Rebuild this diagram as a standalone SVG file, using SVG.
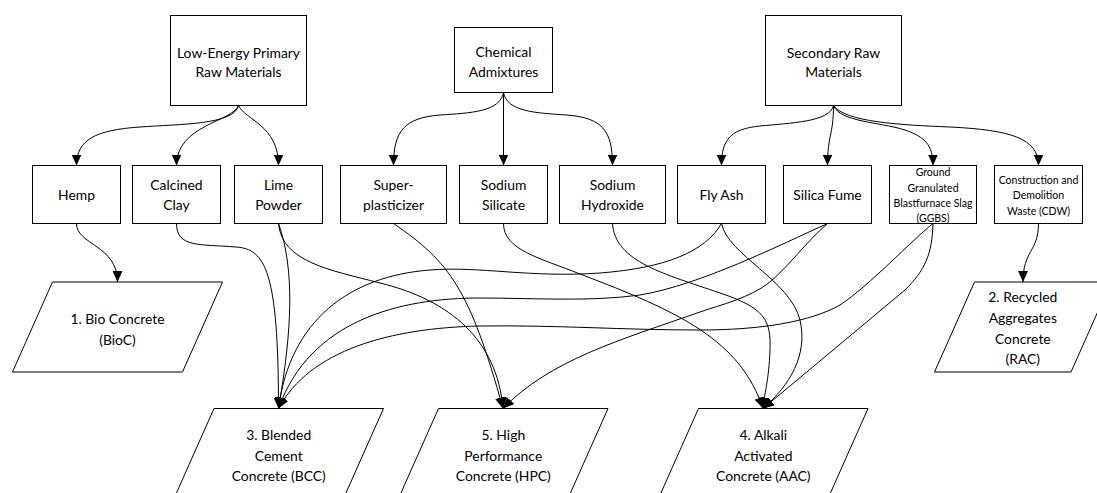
<svg xmlns="http://www.w3.org/2000/svg" width="1097" height="493" viewBox="0 0 1097 493">
<style>
.box{fill:#fff;stroke:#000;stroke-width:1}
.t{font-family:Lato,"Liberation Sans",sans-serif;font-size:13.9px;fill:#000;text-anchor:middle}
.s{font-size:10.5px}
.c{fill:none;stroke:#000;stroke-width:1;marker-end:url(#ah)}
</style>
<defs>
<marker id="ah" markerUnits="userSpaceOnUse" markerWidth="11" markerHeight="10" refX="11" refY="5" orient="auto"><path d="M0,0 L11,5 L0,10 z" fill="#000"/></marker>
</defs>
<rect width="1097" height="493" fill="#fff"/>
<g id="n-lowe"><rect class="box" x="170.5" y="15.5" width="136" height="90"/><text class="t" x="238.5" y="57.5">Low-Energy Primary</text><text class="t" x="238.5" y="76.5">Raw Materials</text></g>
<g id="n-chem"><rect class="box" x="454.5" y="27.5" width="98" height="65"/><text class="t" x="503.5" y="57">Chemical</text><text class="t" x="503.5" y="76.5">Admixtures</text></g>
<g id="n-sec"><rect class="box" x="765.5" y="15.5" width="136" height="90"/><text class="t" x="833.5" y="57.5">Secondary Raw</text><text class="t" x="833.5" y="76.5">Materials</text></g>
<g id="n-hemp"><rect class="box" x="32.5" y="165.5" width="88" height="58"/><text class="t" x="76.5" y="200.3">Hemp</text></g>
<g id="n-clay"><rect class="box" x="132.5" y="165.5" width="88" height="58"/><text class="t" x="176.5" y="189.8">Calcined</text><text class="t" x="176.5" y="210.3">Clay</text></g>
<g id="n-lime"><rect class="box" x="234.5" y="165.5" width="88" height="58"/><text class="t" x="278.5" y="189.8">Lime</text><text class="t" x="278.5" y="210.3">Powder</text></g>
<g id="n-super"><rect class="box" x="340.5" y="165.5" width="106" height="58"/><text class="t" x="393.5" y="189.8">Super-</text><text class="t" x="393.5" y="210.3">plasticizer</text></g>
<g id="n-silicate"><rect class="box" x="459.5" y="165.5" width="88" height="58"/><text class="t" x="503.5" y="189.8">Sodium</text><text class="t" x="503.5" y="210.3">Silicate</text></g>
<g id="n-hydroxide"><rect class="box" x="559.5" y="165.5" width="106" height="58"/><text class="t" x="612.5" y="189.8">Sodium</text><text class="t" x="612.5" y="210.3">Hydroxide</text></g>
<g id="n-flyash"><rect class="box" x="677.5" y="165.5" width="88" height="58"/><text class="t" x="721.5" y="200.3">Fly Ash</text></g>
<g id="n-silicafume"><rect class="box" x="783.5" y="165.5" width="88" height="58"/><text class="t" x="827.5" y="200.3">Silica Fume</text></g>
<g id="n-ggbs"><rect class="box" x="889.5" y="165.5" width="87" height="58"/><text class="t s" x="933" y="176.3">Ground</text><text class="t s" x="933" y="191.8">Granulated</text><text class="t s" x="933" y="207.3">Blastfurnace Slag</text><text class="t s" x="933" y="222.3">(GGBS)</text></g>
<g id="n-cdw"><rect class="box" x="994.5" y="165.5" width="88" height="58"/><text class="t s" x="1038.5" y="183.8">Construction and</text><text class="t s" x="1038.5" y="199.3">Demolition</text><text class="t s" x="1038.5" y="214.8">Waste (CDW)</text></g>
<g id="n-bioc"><polygon class="box" points="52.5,282 222.5,282 182.5,372 12.5,372"/><text class="t" x="117.5" y="323.8">1. Bio Concrete</text><text class="t" x="117.5" y="344.8">(BioC)</text></g>
<g id="n-rac"><polygon class="box" points="974.5,282 1111,282 1071,372 934.5,372"/><text class="t" x="1022.8" y="301.5">2. Recycled</text><text class="t" x="1022.8" y="322.5">Aggregates</text><text class="t" x="1022.8" y="343.5">Concrete</text><text class="t" x="1022.8" y="364">(RAC)</text></g>
<g id="n-bcc"><polygon class="box" points="214,408.5 383.5,408.5 343.5,498.5 174,498.5"/><text class="t" x="278.7" y="439.8">3. Blended</text><text class="t" x="278.7" y="460.5">Cement</text><text class="t" x="278.7" y="481">Concrete (BCC)</text></g>
<g id="n-hpc"><polygon class="box" points="438.5,408.5 608,408.5 568,498.5 398.5,498.5"/><text class="t" x="503.3" y="439.8">5. High</text><text class="t" x="503.3" y="460.5">Performance</text><text class="t" x="503.3" y="481">Concrete (HPC)</text></g>
<g id="n-aac"><polygon class="box" points="698.5,408.5 868,408.5 828,498.5 658.5,498.5"/><text class="t" x="763.3" y="439.8">4. Alkali</text><text class="t" x="763.3" y="460.5">Activated</text><text class="t" x="763.3" y="481">Concrete (AAC)</text></g>
<g id="connectors">
<path class="c" d="M238.5,105.5 C234,125 180,124 140,127 C95,130 76.5,140 76.5,165.5"/>
<path class="c" d="M238.5,105.5 C232,122 176.5,125 176.5,165.5"/>
<path class="c" d="M238.5,105.5 C245,120 278.5,125 278.5,165.5"/>
<path class="c" d="M503.5,92.5 C500,112 470,113 440,115 C405,118 393.5,130 393.5,165.5"/>
<path class="c" d="M503.5,92.5 L503.5,165.5"/>
<path class="c" d="M503.5,92.5 C507,112 537,113 567,115 C602,118 612.5,130 612.5,165.5"/>
<path class="c" d="M833.5,105.5 C830,122 790,123 760,126 C730,129 721.5,140 721.5,165.5"/>
<path class="c" d="M833.5,105.5 C833.5,135 827.5,135 827.5,165.5"/>
<path class="c" d="M833.5,105.5 C840,122 880,122 905,130 C925,137 933,145 933,165.5"/>
<path class="c" d="M833.5,105.5 C845,122 900,125 950,127 C1010,130 1038.5,138 1038.5,165.5"/>
<path class="c" d="M76.5,223.5 C76.5,245 117.5,245 117.5,282"/>
<path class="c" d="M1038.5,223.5 C1038.5,252 1023,250 1023,282"/>
<path class="c" d="M176.5,223.5 C176.5,248 200,244 236,247 C265,249 278.5,270 278.5,408.5"/>
<path class="c" d="M278.5,223.5 C295,270 292,330 278.5,408.5"/>
<path class="c" d="M278.5,223.5 C282,262 330,270 380,283 C450,300 497,340 503,408.5"/>
<path class="c" d="M393.5,223.5 C450,262 470,290 503,408.5"/>
<path class="c" d="M503.5,223.5 C503.5,250 540,258 580,274 C680,312 740,340 763,408.5"/>
<path class="c" d="M612.5,223.5 C615,262 665,274 720,293 C765,308 771,320 770,350 C769,380 764,395 763,408.5"/>
<path class="c" d="M721.5,223.5 C705,252 665,268 600,273 C530,278 480,266 430,270 C350,276 290,320 278.5,408.5"/>
<path class="c" d="M827.5,223.5 C780,245 700,285 640,295 C590,302 530,298 480,298 C400,298 310,320 278.5,408.5"/>
<path class="c" d="M827.5,223.5 C805,243 790,265 770,282 C750,298 720,305 700,312 C620,340 550,360 503,408.5"/>
<path class="c" d="M933,223.5 C910,242 870,285 840,305 C810,322 760,330 700,330 C620,330 560,325 480,326 C390,328 310,350 278.5,408.5"/>
<path class="c" d="M933,223.5 C932,255 925,270 905,290 L763,408.5"/>
<path class="c" d="M721.5,223.5 C728,255 790,280 800,320 C808,355 790,385 763,408.5"/>
</g>
</svg>
